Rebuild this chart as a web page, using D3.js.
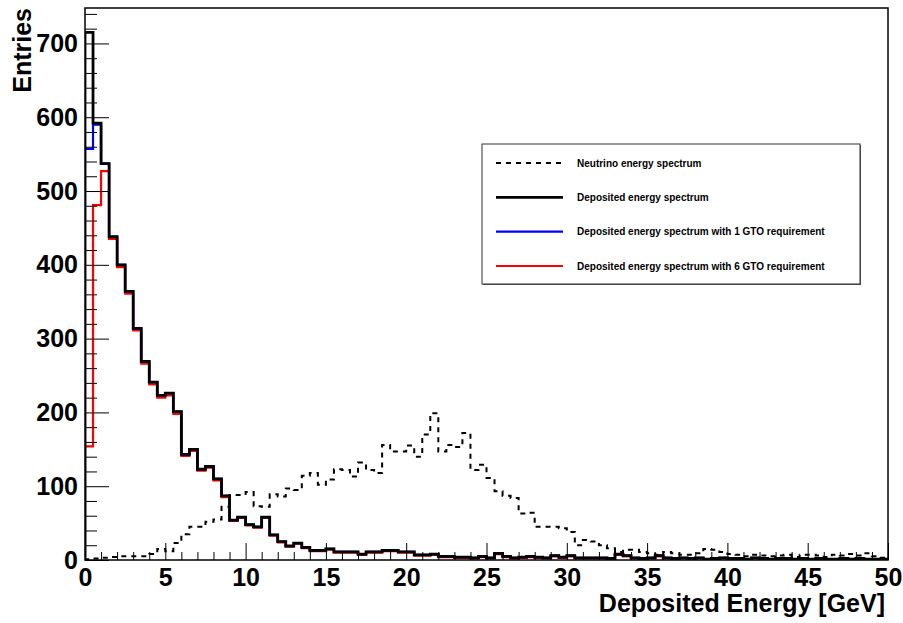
<!DOCTYPE html>
<html lang="en">
<head>
  <meta charset="UTF-8" />
  <title>Deposited Energy Spectrum</title>
  <script src="https://d3js.org/d3.v7.min.js"></script>
  <style>
    body {
      margin: 0;
      background: #ffffff;
      font-family: 'Liberation Sans', Arial, sans-serif;
    }
    #chart { display: block; }
    .tick-label { font-size: 25px; font-weight: bold; fill: #000; }
    .axis-title { font-size: 25px; font-weight: bold; fill: #000; }
    .legend-text { font-size: 10px; font-weight: bold; fill: #000; }
    .hist { fill: none; }
  </style>
</head>
<body>
  <svg id="chart"></svg>

  <script>
    // Histogram binning: 100 bins of 0.5 GeV between 0 and 50 GeV
    const xRange = [0, 50];
    const binWidth = 0.5;
    const yMax = 748;

    // Bin contents (one value per bin)
    const neutrinoSpectrum = [
      1, 2, 3, 4, 5, 5, 5, 5, 8, 15,
      12, 23, 35, 45, 45, 52, 55, 72, 88, 88,
      92, 73, 72, 89, 86, 97, 95, 114, 118, 102,
      109, 123, 122, 113, 132, 122, 118, 156, 147, 147,
      155, 140, 170, 199, 147, 156, 153, 172, 122, 129,
      111, 93, 87, 84, 63, 64, 45, 45, 45, 43,
      38, 20, 27, 25, 20, 16, 11, 14, 14, 11,
      9, 7, 11, 9, 7, 7, 9, 15, 14, 11,
      8, 7, 5, 7, 6, 5, 6, 7, 4, 7,
      7, 6, 4, 7, 6, 8, 6, 9, 5, 3
    ];

    const depositedSpectrum = [
      715, 592, 537, 438, 400, 364, 314, 269, 241, 223,
      226, 201, 143, 150, 123, 127, 110, 87, 54, 58,
      48, 45, 58, 34, 25, 19, 23, 17, 13, 13,
      15, 11, 11, 11, 8, 11, 11, 13, 13, 11,
      11, 7, 7, 8, 5, 5, 4, 4, 3, 5,
      3, 9, 5, 3, 4, 5, 4, 3, 6, 4,
      6, 3, 3, 3, 3, 2, 8, 6, 3, 2,
      3, 6, 3, 2, 3, 2, 3, 1, 2, 3,
      2, 2, 1, 3, 2, 1, 2, 2, 1, 2,
      1, 2, 1, 1, 2, 1, 2, 1, 1, 1
    ];

    const deposited1GTO = [
      557, 590, 537, 438, 400, 364, 314, 269, 241, 223,
      226, 201, 143, 150, 123, 127, 110, 87, 54, 58,
      48, 45, 58, 34, 25, 19, 23, 17, 13, 13,
      15, 11, 11, 11, 8, 11, 11, 13, 13, 11,
      11, 7, 7, 8, 5, 5, 4, 4, 3, 5,
      3, 9, 5, 3, 4, 5, 4, 3, 6, 4,
      6, 3, 3, 3, 3, 2, 8, 6, 3, 2,
      3, 6, 3, 2, 3, 2, 3, 1, 2, 3,
      2, 2, 1, 3, 2, 1, 2, 2, 1, 2,
      1, 2, 1, 1, 2, 1, 2, 1, 1, 1
    ];

    const deposited6GTO = [
      154, 481, 527, 435, 397, 361, 311, 266, 238, 220,
      223, 198, 141, 148, 121, 125, 108, 85, 53, 57,
      47, 44, 57, 33, 24, 18, 22, 16, 12, 12,
      14, 10, 10, 10, 7, 10, 10, 12, 12, 10,
      10, 6, 6, 7, 4, 4, 3, 3, 2, 4,
      2, 8, 4, 2, 3, 4, 3, 2, 5, 3,
      5, 2, 2, 2, 2, 1, 7, 5, 2, 1,
      2, 5, 2, 1, 2, 1, 2, 1, 1, 2,
      1, 1, 0, 2, 1, 0, 1, 1, 0, 1,
      0, 1, 0, 0, 1, 0, 1, 0, 0, 0
    ];

    // Series, in drawing order (black on top, like the original)
    const series = [
      { name: "Neutrino energy spectrum", values: neutrinoSpectrum, color: "#000000", width: 2, dash: "5,5" },
      { name: "Deposited energy spectrum with 6 GTO requirement", values: deposited6GTO, color: "#ff0000", width: 2.2 },
      { name: "Deposited energy spectrum with 1 GTO requirement", values: deposited1GTO, color: "#0000ff", width: 2.2 },
      { name: "Deposited energy spectrum", values: depositedSpectrum, color: "#000000", width: 2.8 }
    ];

    // Legend order as in the picture
    const legendOrder = [
      "Neutrino energy spectrum",
      "Deposited energy spectrum",
      "Deposited energy spectrum with 1 GTO requirement",
      "Deposited energy spectrum with 6 GTO requirement"
    ];

    const width = 903, height = 623;
    const margin = { top: 8, right: 15, bottom: 63, left: 85 };

    const svg = d3.select("#chart")
      .attr("width", width)
      .attr("height", height);

    const x = d3.scaleLinear().domain(xRange).range([margin.left, width - margin.right]);
    const y = d3.scaleLinear().domain([0, yMax]).range([height - margin.bottom, margin.top]);

    // Clip so histogram lines stay inside the frame
    svg.append("clipPath").attr("id", "frame-clip")
      .append("rect")
      .attr("x", x(0)).attr("y", y(yMax))
      .attr("width", x(50) - x(0)).attr("height", y(0) - y(yMax));

    // Step line: one point per bin low edge, plus the last upper edge
    const stepLine = d3.line()
      .x(d => x(d.x))
      .y(d => y(d.v))
      .curve(d3.curveStepAfter);

    function toSteps(values) {
      const pts = [{ x: 0, v: 0 }];
      values.forEach((v, i) => pts.push({ x: i * binWidth, v }));
      pts.push({ x: values.length * binWidth, v: values[values.length - 1] });
      pts.push({ x: values.length * binWidth, v: 0 });
      return pts;
    }

    const histGroup = svg.append("g").attr("clip-path", "url(#frame-clip)");
    series.forEach(s => {
      histGroup.append("path")
        .attr("class", "hist")
        .attr("d", stepLine(toSteps(s.values)))
        .attr("stroke", s.color)
        .attr("stroke-width", s.width)
        .attr("stroke-dasharray", s.dash || null)
        .attr("stroke-linejoin", "miter");
    });

    // Axes: ROOT style, ticks pointing into the frame
    const yMajor = d3.range(0, 701, 100);
    const yMinor = d3.range(0, 741, 20).filter(v => v % 100 !== 0);
    const xMajor = d3.range(0, 51, 5);
    const xMinor = d3.range(0, 51, 1).filter(v => v % 5 !== 0);

    const yAxis = svg.append("g")
      .attr("transform", `translate(${x(0)},0)`)
      .call(d3.axisLeft(y).tickValues(yMajor).tickSize(-24).tickPadding(7).tickFormat(d3.format("d")));
    svg.append("g")
      .attr("transform", `translate(${x(0)},0)`)
      .call(d3.axisLeft(y).tickValues(yMinor).tickSize(-12).tickFormat(""));

    const xAxis = svg.append("g")
      .attr("transform", `translate(0,${y(0)})`)
      .call(d3.axisBottom(x).tickValues(xMajor).tickSize(-17).tickPadding(8).tickFormat(d3.format("d")));
    svg.append("g")
      .attr("transform", `translate(0,${y(0)})`)
      .call(d3.axisBottom(x).tickValues(xMinor).tickSize(-8).tickFormat(""));

    svg.selectAll(".domain").remove();
    svg.selectAll(".tick line").attr("stroke", "#000").attr("stroke-width", 1);
    svg.selectAll(".tick text").attr("class", "tick-label").style("font-family", null).style("font-size", null);
    yAxis.attr("font-size", null).attr("font-family", null);
    xAxis.attr("font-size", null).attr("font-family", null);
    xAxis.selectAll(".tick text").attr("dy", "0.72em");

    // Frame
    svg.append("rect")
      .attr("x", x(0)).attr("y", y(yMax))
      .attr("width", x(50) - x(0)).attr("height", y(0) - y(yMax))
      .attr("fill", "none")
      .attr("stroke", "#000")
      .attr("stroke-width", 1.5);

    // Axis titles
    svg.append("text")
      .attr("class", "axis-title")
      .attr("text-anchor", "end")
      .attr("x", x(50) - 3)
      .attr("y", 612)
      .text("Deposited Energy [GeV]");

    svg.append("text")
      .attr("class", "axis-title")
      .attr("text-anchor", "end")
      .attr("transform", `translate(31,${y(yMax)}) rotate(-90)`)
      .text("Entries");

    // Legend box
    const legend = { x: 482, y: 144, w: 378, h: 140 };
    svg.append("rect")
      .attr("x", legend.x + 1).attr("y", legend.y + 1)
      .attr("width", legend.w).attr("height", legend.h)
      .attr("fill", "#555");
    svg.append("rect")
      .attr("x", legend.x).attr("y", legend.y)
      .attr("width", legend.w).attr("height", legend.h)
      .attr("fill", "#fff")
      .attr("stroke", "#333")
      .attr("stroke-width", 1);

    const rowY = d3.scalePoint().domain(legendOrder).range([legend.y + 19, legend.y + 122]);
    legendOrder.forEach(name => {
      const s = series.find(d => d.name === name);
      const cy = rowY(name);
      svg.append("line")
        .attr("x1", legend.x + 14).attr("x2", legend.x + 81)
        .attr("y1", cy).attr("y2", cy)
        .attr("stroke", s.color)
        .attr("stroke-width", s.width)
        .attr("stroke-dasharray", s.dash || null);
      svg.append("text")
        .attr("class", "legend-text")
        .attr("x", legend.x + 95)
        .attr("y", cy)
        .attr("dy", "0.35em")
        .text(name);
    });
  </script>
</body>
</html>
